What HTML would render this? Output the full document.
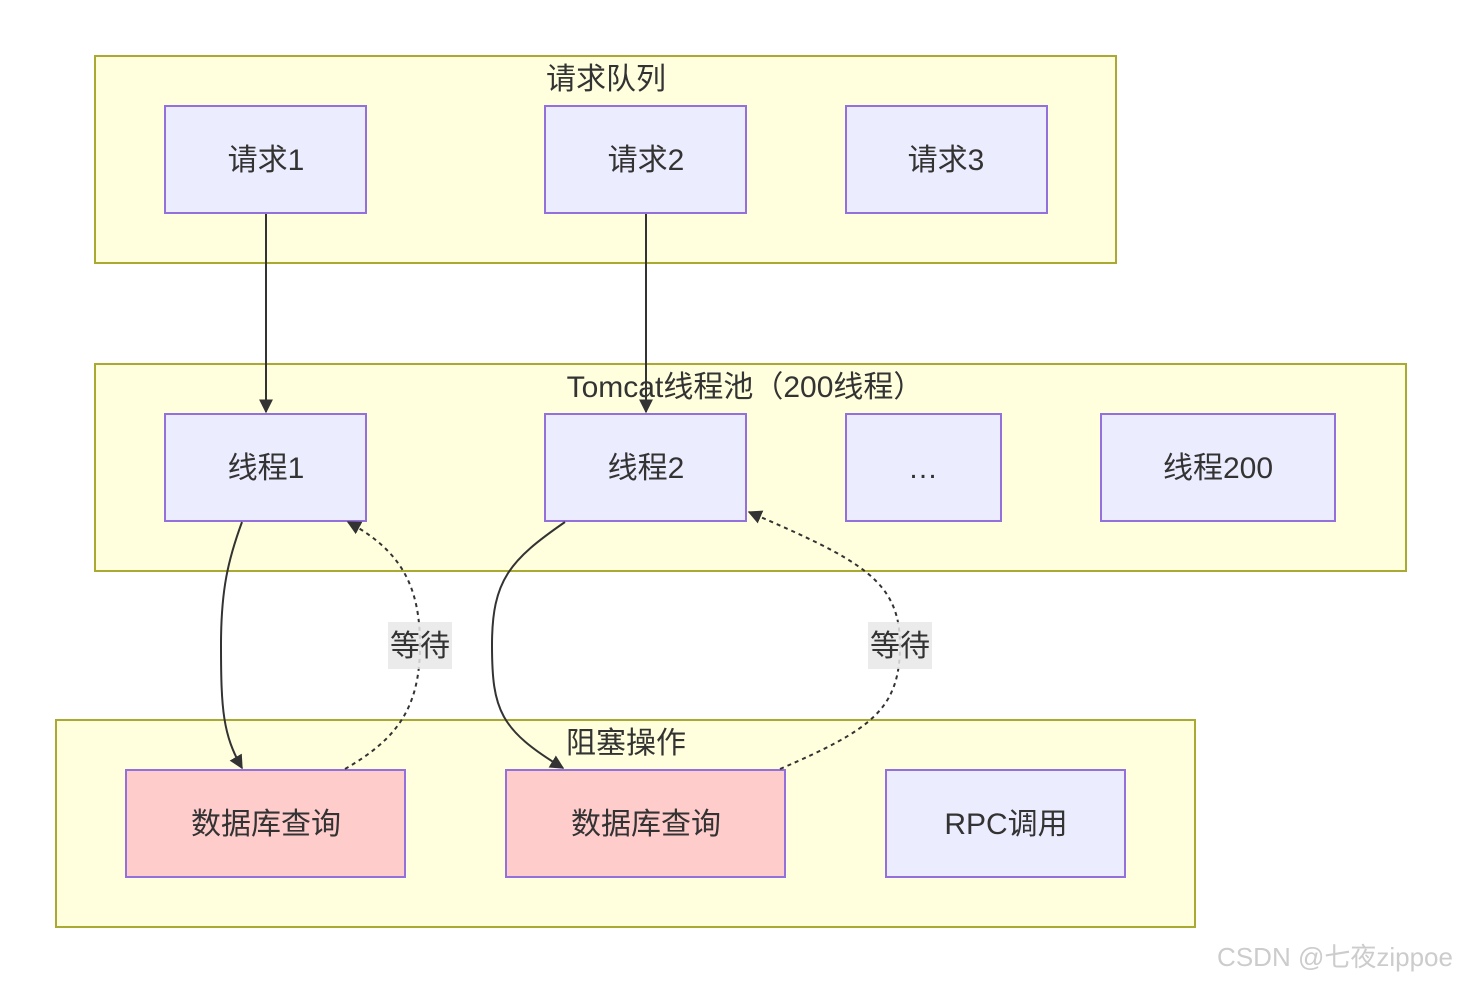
<!DOCTYPE html>
<html><head><meta charset="utf-8"><style>
html,body{margin:0;padding:0;background:#fff;}
svg text{font-family:"Liberation Sans","Noto Sans CJK SC",sans-serif;fill:#333;}
</style></head><body>
<svg width="1462" height="983" viewBox="0 0 1462 983" xmlns="http://www.w3.org/2000/svg">
<defs>
<marker id="ah" viewBox="0 0 10 10" refX="9" refY="5" markerWidth="8" markerHeight="8" orient="auto-start-reverse" markerUnits="userSpaceOnUse"><path d="M0,0 L10,5 L0,10 z" fill="#333"/></marker>
<marker id="a" viewBox="0 0 10 10" refX="9" refY="5" markerWidth="14" markerHeight="14" orient="auto" markerUnits="userSpaceOnUse"><path d="M0,0 L10,5 L0,10 z" fill="#333"/></marker>
</defs>
<g stroke="#aaaa33" stroke-width="2" fill="#ffffde">
<rect x="95" y="56" width="1021" height="207"/>
<rect x="95" y="364" width="1311" height="207"/>
<rect x="56" y="720" width="1139" height="207"/>
</g>
<g font-size="30" text-anchor="middle">
<text x="606" y="89">请求队列</text>
<text x="745" y="397">Tomcat线程池（200线程）</text>
<text x="626" y="753">阻塞操作</text>
</g>
<g stroke="#9370db" stroke-width="2" fill="#ececff">
<rect x="165" y="106" width="201" height="107"/>
<rect x="545" y="106" width="201" height="107"/>
<rect x="846" y="106" width="201" height="107"/>
<rect x="165" y="414" width="201" height="107"/>
<rect x="545" y="414" width="201" height="107"/>
<rect x="846" y="414" width="155" height="107"/>
<rect x="1101" y="414" width="234" height="107"/>
<rect x="126" y="770" width="279" height="107" fill="#ffcccc"/>
<rect x="506" y="770" width="279" height="107" fill="#ffcccc"/>
<rect x="886" y="770" width="239" height="107"/>
</g>
<g fill="none" stroke="#333" stroke-width="2">
<path d="M266,214 L266,412" marker-end="url(#a)"/>
<path d="M646,214 L646,412" marker-end="url(#a)"/>
<path d="M242,522 C228,560 221,590 221,645 C221,710 223,735 242,768" marker-end="url(#a)"/>
<path d="M565,522 C510,560 492,580 492,645 C492,710 500,730 563,768" marker-end="url(#a)"/>
<path d="M345,769 C395,740 420,710 420,645 C420,585 400,550 348,522" stroke-dasharray="4,4" marker-end="url(#a)"/>
<path d="M780,769 C870,730 900,710 900,645 C900,580 860,560 749,512" stroke-dasharray="4,4" marker-end="url(#a)"/>
</g>
<g fill="rgba(232,232,232,0.85)">
<rect x="388" y="622" width="64" height="47"/>
<rect x="868" y="622" width="64" height="47"/>
</g>
<g font-size="30" text-anchor="middle">
<text x="420" y="656">等待</text>
<text x="900" y="656">等待</text>
<text x="266" y="170">请求1</text>
<text x="646" y="170">请求2</text>
<text x="946" y="170">请求3</text>
<text x="266" y="478">线程1</text>
<text x="646" y="478">线程2</text>
<text x="923" y="478">…</text>
<text x="1218" y="478">线程200</text>
<text x="266" y="834">数据库查询</text>
<text x="646" y="834">数据库查询</text>
<text x="1006" y="834">RPC调用</text>
</g>
<text x="1335" y="966" font-size="26" text-anchor="middle" style="fill:#ccc">CSDN @七夜zippoe</text>
</svg>
</body></html>
